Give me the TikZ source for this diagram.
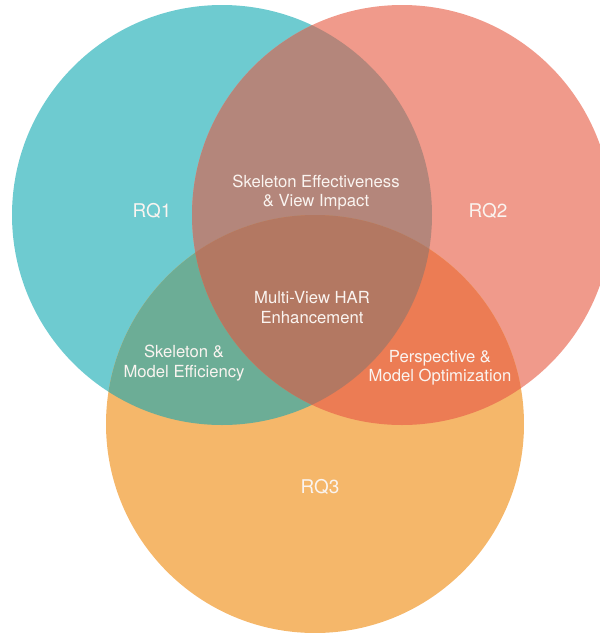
\documentclass[tikz,border=0pt]{standalone}
\usepackage{fontspec}
\setmainfont{TeX Gyre Heros}
\definecolor{cA}{RGB}{110,203,208}
\definecolor{cB}{RGB}{240,154,139}
\definecolor{cC}{RGB}{245,183,106}
\definecolor{cAB}{RGB}{180,134,123}
\definecolor{cAC}{RGB}{108,173,150}
\definecolor{cBC}{RGB}{236,124,84}
\definecolor{cABC}{RGB}{179,120,98}
\definecolor{txt}{RGB}{250,244,240}
\tikzset{
  lab/.style={text=txt, align=center, font=\fontsize{12.5pt}{14.6pt}\selectfont, inner sep=0pt},
  big/.style={text=txt, font=\fontsize{14.2pt}{16pt}\selectfont, inner sep=0pt}
}
\begin{document}
\begin{tikzpicture}[x=0.75pt,y=-0.75pt]
\useasboundingbox (0,0) rectangle (600,633);
\clip (0,0) rectangle (600,633);
\def\cA{(222,215) circle (210)}
\def\cB{(402,215) circle (210)}
\def\cC{(315,424) circle (209)}
\fill[cA] \cA;
\fill[cB] \cB;
\fill[cC] \cC;
\begin{scope}\clip \cA; \fill[cAB] \cB; \end{scope}
\begin{scope}\clip \cA; \fill[cAC] \cC; \end{scope}
\begin{scope}\clip \cB; \fill[cBC] \cC; \end{scope}
\begin{scope}\clip \cA; \clip \cB; \fill[cABC] \cC; \end{scope}
\node[big] (rq1) at (152,211) {RQ1};
\node[big] (rq2) at (488,211) {RQ2};
\node[big] (rq3) at (320,487) {RQ3};
\node[lab] (ab) at (316,192.5) {Skeleton Effectiveness\\\& View Impact};
\node[lab] (abc) at (312,307.5) {Multi-View HAR\\Enhancement};
\node[lab] (ac) at (184,363) {Skeleton \&\\Model Efficiency};
\node[lab] (bc) at (440,368) {Perspective \&\\Model Optimization};
\end{tikzpicture}
\end{document}
